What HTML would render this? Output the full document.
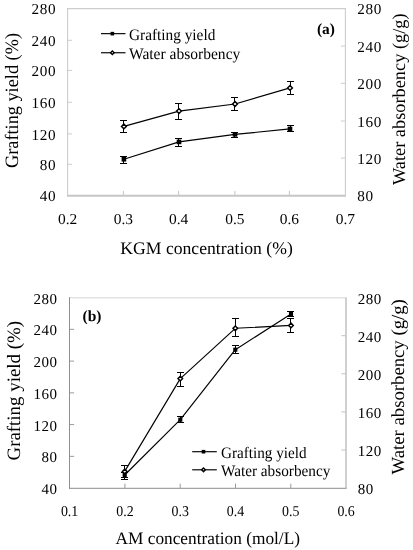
<!DOCTYPE html>
<html lang="en"><head><meta charset="utf-8"><title>Grafting yield and water absorbency</title>
<style>html,body{margin:0;padding:0;background:#fff}svg{display:block}</style></head>
<body>
<svg width="413" height="550" viewBox="0 0 413 550" font-family="'Liberation Serif', 'Times New Roman', serif" fill="#000" text-rendering="geometricPrecision">
<rect width="413" height="550" fill="#fff"/>
<line x1="67.60" y1="40.30" x2="72.20" y2="40.30" stroke="#cdcdcd" stroke-width="1"/>
<line x1="67.60" y1="70.40" x2="72.20" y2="70.40" stroke="#cdcdcd" stroke-width="1"/>
<line x1="67.60" y1="102.30" x2="72.20" y2="102.30" stroke="#cdcdcd" stroke-width="1"/>
<line x1="67.60" y1="133.90" x2="72.20" y2="133.90" stroke="#cdcdcd" stroke-width="1"/>
<line x1="67.60" y1="164.30" x2="72.20" y2="164.30" stroke="#cdcdcd" stroke-width="1"/>
<line x1="345.40" y1="46.10" x2="340.80" y2="46.10" stroke="#cdcdcd" stroke-width="1"/>
<line x1="345.40" y1="83.30" x2="340.80" y2="83.30" stroke="#cdcdcd" stroke-width="1"/>
<line x1="345.40" y1="121.00" x2="340.80" y2="121.00" stroke="#cdcdcd" stroke-width="1"/>
<line x1="345.40" y1="158.10" x2="340.80" y2="158.10" stroke="#cdcdcd" stroke-width="1"/>
<line x1="123.40" y1="195.50" x2="123.40" y2="190.90" stroke="#c4c4c4" stroke-width="1"/>
<line x1="178.60" y1="195.50" x2="178.60" y2="190.90" stroke="#c4c4c4" stroke-width="1"/>
<line x1="234.90" y1="195.50" x2="234.90" y2="190.90" stroke="#c4c4c4" stroke-width="1"/>
<line x1="289.40" y1="195.50" x2="289.40" y2="190.90" stroke="#c4c4c4" stroke-width="1"/>
<line x1="67.10" y1="8.60" x2="345.90" y2="8.60" stroke="#cdcdcd" stroke-width="1.1"/>
<line x1="345.40" y1="8.60" x2="345.40" y2="195.50" stroke="#cdcdcd" stroke-width="1.1"/>
<line x1="67.60" y1="8.10" x2="67.60" y2="196.00" stroke="#cdcdcd" stroke-width="1.1"/>
<line x1="67.10" y1="195.70" x2="345.90" y2="195.70" stroke="#c6c6c6" stroke-width="2"/>
<text x="56.2" y="14.4" font-size="15.2" text-anchor="end" letter-spacing="0.6">280</text>
<text x="56.2" y="46.1" font-size="15.2" text-anchor="end" letter-spacing="0.6">240</text>
<text x="56.2" y="76.2" font-size="15.2" text-anchor="end" letter-spacing="0.6">200</text>
<text x="56.2" y="108.1" font-size="15.2" text-anchor="end" letter-spacing="0.6">160</text>
<text x="56.2" y="139.7" font-size="15.2" text-anchor="end" letter-spacing="0.6">120</text>
<text x="56.2" y="170.1" font-size="15.2" text-anchor="end" letter-spacing="0.6">80</text>
<text x="56.2" y="201.3" font-size="15.2" text-anchor="end" letter-spacing="0.6">40</text>
<text x="357.3" y="14.4" font-size="15.2" text-anchor="start" letter-spacing="0.6">280</text>
<text x="357.3" y="51.9" font-size="15.2" text-anchor="start" letter-spacing="0.6">240</text>
<text x="357.3" y="89.1" font-size="15.2" text-anchor="start" letter-spacing="0.6">200</text>
<text x="357.3" y="126.8" font-size="15.2" text-anchor="start" letter-spacing="0.6">160</text>
<text x="357.3" y="163.9" font-size="15.2" text-anchor="start" letter-spacing="0.6">120</text>
<text x="357.3" y="201.3" font-size="15.2" text-anchor="start" letter-spacing="0.6">80</text>
<text x="57.95" y="224.3" font-size="15.2" text-anchor="start" textLength="19.3" lengthAdjust="spacingAndGlyphs">0.2</text>
<text x="113.75" y="224.3" font-size="15.2" text-anchor="start" textLength="19.3" lengthAdjust="spacingAndGlyphs">0.3</text>
<text x="168.95" y="224.3" font-size="15.2" text-anchor="start" textLength="19.3" lengthAdjust="spacingAndGlyphs">0.4</text>
<text x="225.25" y="224.3" font-size="15.2" text-anchor="start" textLength="19.3" lengthAdjust="spacingAndGlyphs">0.5</text>
<text x="279.75" y="224.3" font-size="15.2" text-anchor="start" textLength="19.3" lengthAdjust="spacingAndGlyphs">0.6</text>
<text x="335.75" y="224.3" font-size="15.2" text-anchor="start" textLength="19.3" lengthAdjust="spacingAndGlyphs">0.7</text>
<text x="120.3" y="254.0" font-size="17.6" text-anchor="start" textLength="172.5" lengthAdjust="spacingAndGlyphs">KGM concentration (%)</text>
<text transform="translate(18.2,168.0) rotate(-90) scale(1,1.03)" x="0" y="0" font-size="18.3" textLength="135" lengthAdjust="spacingAndGlyphs">Grafting yield (%)</text>
<text transform="translate(405.0,185.0) rotate(-90) scale(1,1.0)" x="0" y="0" font-size="18.3" textLength="171.5" lengthAdjust="spacingAndGlyphs">Water absorbency (g/g)</text>
<text x="316.9" y="33.7" font-size="15.4" text-anchor="start" font-weight="bold">(a)</text>
<g stroke="#000" stroke-width="1.15" fill="none" stroke-linecap="butt" stroke-linejoin="round">
<polyline points="123.9,159.3 179,141.9 235,134.4 290,128.9"/>
<path stroke-width="1" d="M123.5 156.5V163.5M120.0 156.5H127.0M120.0 163.5H127.0"/>
<path stroke-width="1" d="M178.5 138.5V146.5M175.0 138.5H182.0M175.0 146.5H182.0"/>
<path stroke-width="1" d="M234.5 132.5V137.5M231.0 132.5H238.0M231.0 137.5H238.0"/>
<path stroke-width="1" d="M290.5 125.5V131.5M287.0 125.5H294.0M287.0 131.5H294.0"/>
<polyline points="123.9,126.4 179,111.1 235,104 290,87.9"/>
<path stroke-width="1" d="M123.5 120.5V132.5M120.0 120.5H127.0M120.0 132.5H127.0"/>
<path stroke-width="1" d="M178.5 103.5V119.5M175.0 103.5H182.0M175.0 119.5H182.0"/>
<path stroke-width="1" d="M234.5 97.5V110.5M231.0 97.5H238.0M231.0 110.5H238.0"/>
<path stroke-width="1" d="M290.5 81.5V94.5M287.0 81.5H294.0M287.0 94.5H294.0"/>
</g>
<rect x="121.60" y="157.00" width="4.60" height="4.60" fill="#000"/>
<rect x="176.70" y="139.60" width="4.60" height="4.60" fill="#000"/>
<rect x="232.70" y="132.10" width="4.60" height="4.60" fill="#000"/>
<rect x="287.70" y="126.60" width="4.60" height="4.60" fill="#000"/>
<path d="M121.48 126.4L123.9 123.98L126.32 126.4L123.9 128.81Z" fill="#fff" stroke="#000" stroke-width="1.45"/>
<path d="M176.59 111.1L179 108.68L181.41 111.1L179 113.52Z" fill="#fff" stroke="#000" stroke-width="1.45"/>
<path d="M232.59 104L235 101.58L237.41 104L235 106.42Z" fill="#fff" stroke="#000" stroke-width="1.45"/>
<path d="M287.58 87.9L290 85.48L292.42 87.9L290 90.32Z" fill="#fff" stroke="#000" stroke-width="1.45"/>
<line x1="101" y1="33.65" x2="125.5" y2="33.65" stroke="#000" stroke-width="1.15"/>
<rect x="110.55" y="31.85" width="3.60" height="3.60" fill="#000"/>
<text x="129" y="39.9" font-size="16" text-anchor="start" textLength="86.3" lengthAdjust="spacingAndGlyphs">Grafting yield</text>
<line x1="101" y1="52.75" x2="125.5" y2="52.75" stroke="#000" stroke-width="1.15"/>
<path d="M110.55 52.75L112.35 50.95L114.15 52.75L112.35 54.55Z" fill="#fff" stroke="#000" stroke-width="1.45"/>
<text x="129" y="59.1" font-size="16" text-anchor="start" textLength="111.3" lengthAdjust="spacingAndGlyphs">Water absorbency</text>
<line x1="69.50" y1="329.35" x2="74.10" y2="329.35" stroke="#9a9a9a" stroke-width="1"/>
<line x1="69.50" y1="361.10" x2="74.10" y2="361.10" stroke="#9a9a9a" stroke-width="1"/>
<line x1="69.50" y1="392.85" x2="74.10" y2="392.85" stroke="#9a9a9a" stroke-width="1"/>
<line x1="69.50" y1="424.60" x2="74.10" y2="424.60" stroke="#9a9a9a" stroke-width="1"/>
<line x1="69.50" y1="456.35" x2="74.10" y2="456.35" stroke="#9a9a9a" stroke-width="1"/>
<line x1="346.00" y1="335.70" x2="341.40" y2="335.70" stroke="#c2c2c2" stroke-width="1"/>
<line x1="346.00" y1="373.80" x2="341.40" y2="373.80" stroke="#c2c2c2" stroke-width="1"/>
<line x1="346.00" y1="411.90" x2="341.40" y2="411.90" stroke="#c2c2c2" stroke-width="1"/>
<line x1="346.00" y1="450.00" x2="341.40" y2="450.00" stroke="#c2c2c2" stroke-width="1"/>
<line x1="124.90" y1="488.30" x2="124.90" y2="483.70" stroke="#9a9a9a" stroke-width="1"/>
<line x1="180.20" y1="488.30" x2="180.20" y2="483.70" stroke="#9a9a9a" stroke-width="1"/>
<line x1="235.50" y1="488.30" x2="235.50" y2="483.70" stroke="#9a9a9a" stroke-width="1"/>
<line x1="290.80" y1="488.30" x2="290.80" y2="483.70" stroke="#9a9a9a" stroke-width="1"/>
<line x1="69.00" y1="297.80" x2="346.50" y2="297.80" stroke="#d4d4d4" stroke-width="1.0"/>
<line x1="346.00" y1="297.80" x2="346.00" y2="488.30" stroke="#c4c4c4" stroke-width="1.6"/>
<line x1="69.50" y1="297.30" x2="69.50" y2="488.80" stroke="#8e8e8e" stroke-width="1"/>
<line x1="69.00" y1="488.30" x2="346.50" y2="488.30" stroke="#8e8e8e" stroke-width="1"/>
<text x="57.5" y="303.6" font-size="15.0" text-anchor="end" letter-spacing="0.5">280</text>
<text x="57.5" y="335.35" font-size="15.0" text-anchor="end" letter-spacing="0.5">240</text>
<text x="57.5" y="367.1" font-size="15.0" text-anchor="end" letter-spacing="0.5">200</text>
<text x="57.5" y="398.85" font-size="15.0" text-anchor="end" letter-spacing="0.5">160</text>
<text x="57.5" y="430.6" font-size="15.0" text-anchor="end" letter-spacing="0.5">120</text>
<text x="57.5" y="462.35" font-size="15.0" text-anchor="end" letter-spacing="0.5">80</text>
<text x="57.5" y="494.1" font-size="15.0" text-anchor="end" letter-spacing="0.5">40</text>
<text x="357.8" y="303.6" font-size="15.0" text-anchor="start" letter-spacing="0.5">280</text>
<text x="357.8" y="341.7" font-size="15.0" text-anchor="start" letter-spacing="0.5">240</text>
<text x="357.8" y="379.8" font-size="15.0" text-anchor="start" letter-spacing="0.5">200</text>
<text x="357.8" y="417.9" font-size="15.0" text-anchor="start" letter-spacing="0.5">160</text>
<text x="357.8" y="456.0" font-size="15.0" text-anchor="start" letter-spacing="0.5">120</text>
<text x="357.8" y="494.1" font-size="15.0" text-anchor="start" letter-spacing="0.5">80</text>
<text x="60.9" y="515.8" font-size="15.0" text-anchor="start" textLength="17.4" lengthAdjust="spacingAndGlyphs">0.1</text>
<text x="116.2" y="515.8" font-size="15.0" text-anchor="start" textLength="17.4" lengthAdjust="spacingAndGlyphs">0.2</text>
<text x="171.5" y="515.8" font-size="15.0" text-anchor="start" textLength="17.4" lengthAdjust="spacingAndGlyphs">0.3</text>
<text x="226.8" y="515.8" font-size="15.0" text-anchor="start" textLength="17.4" lengthAdjust="spacingAndGlyphs">0.4</text>
<text x="282.1" y="515.8" font-size="15.0" text-anchor="start" textLength="17.4" lengthAdjust="spacingAndGlyphs">0.5</text>
<text x="337.4" y="515.8" font-size="15.0" text-anchor="start" textLength="17.4" lengthAdjust="spacingAndGlyphs">0.6</text>
<text x="115.5" y="543.9" font-size="17.6" text-anchor="start" textLength="184.5" lengthAdjust="spacingAndGlyphs">AM concentration (mol/L)</text>
<text transform="translate(20,460.5) rotate(-90) scale(1,1.02)" x="0" y="0" font-size="18.5" textLength="139.5" lengthAdjust="spacingAndGlyphs">Grafting yield (%)</text>
<text transform="translate(404.3,474.4) rotate(-90) scale(1,1.0)" x="0" y="0" font-size="18.5" textLength="175.2" lengthAdjust="spacingAndGlyphs">Water absorbency (g/g)</text>
<text x="82.5" y="320.7" font-size="15.5" text-anchor="start" font-weight="bold">(b)</text>
<g stroke="#000" stroke-width="1.15" fill="none" stroke-linecap="butt" stroke-linejoin="round">
<polyline points="124.7,475 180.3,419.7 235.3,349.7 291,314"/>
<path stroke-width="1" d="M124.5 472.5V479.5M121.0 472.5H128.0M121.0 479.5H128.0"/>
<path stroke-width="1" d="M180.5 416.5V422.5M177.0 416.5H184.0M177.0 422.5H184.0"/>
<path stroke-width="1" d="M235.5 345.5V353.5M232.0 345.5H239.0M232.0 353.5H239.0"/>
<path stroke-width="1" d="M290.5 311.5V316.5M287.0 311.5H294.0M287.0 316.5H294.0"/>
<polyline points="124.7,471.4 180.3,378.6 235.3,328.3 291,325.4"/>
<path stroke-width="1" d="M124.5 465.5V477.5M121.0 465.5H128.0M121.0 477.5H128.0"/>
<path stroke-width="1" d="M180.5 372.5V386.5M177.0 372.5H184.0M177.0 386.5H184.0"/>
<path stroke-width="1" d="M235.5 318.5V336.5M232.0 318.5H239.0M232.0 336.5H239.0"/>
<path stroke-width="1" d="M290.5 318.5V332.5M287.0 318.5H294.0M287.0 332.5H294.0"/>
</g>
<rect x="122.65" y="472.95" width="4.10" height="4.10" fill="#000"/>
<rect x="178.25" y="417.65" width="4.10" height="4.10" fill="#000"/>
<rect x="233.25" y="347.65" width="4.10" height="4.10" fill="#000"/>
<rect x="288.95" y="311.95" width="4.10" height="4.10" fill="#000"/>
<path d="M122.40 471.4L124.7 469.10L127.00 471.4L124.7 473.70Z" fill="#fff" stroke="#000" stroke-width="1.45"/>
<path d="M178.00 378.6L180.3 376.30L182.60 378.6L180.3 380.90Z" fill="#fff" stroke="#000" stroke-width="1.45"/>
<path d="M233.00 328.3L235.3 326.00L237.60 328.3L235.3 330.60Z" fill="#fff" stroke="#000" stroke-width="1.45"/>
<path d="M288.70 325.4L291 323.10L293.30 325.4L291 327.70Z" fill="#fff" stroke="#000" stroke-width="1.45"/>
<line x1="192.2" y1="451.7" x2="216.8" y2="451.7" stroke="#000" stroke-width="1.15"/>
<rect x="201.70" y="449.90" width="3.60" height="3.60" fill="#000"/>
<text x="221" y="458.1" font-size="16" text-anchor="start" textLength="85.5" lengthAdjust="spacingAndGlyphs">Grafting yield</text>
<line x1="192.2" y1="469.8" x2="216.8" y2="469.8" stroke="#000" stroke-width="1.15"/>
<path d="M201.70 469.8L203.5 468.00L205.30 469.8L203.5 471.60Z" fill="#fff" stroke="#000" stroke-width="1.45"/>
<text x="221" y="476.2" font-size="16" text-anchor="start" textLength="109.3" lengthAdjust="spacingAndGlyphs">Water absorbency</text>
</svg>
</body></html>
